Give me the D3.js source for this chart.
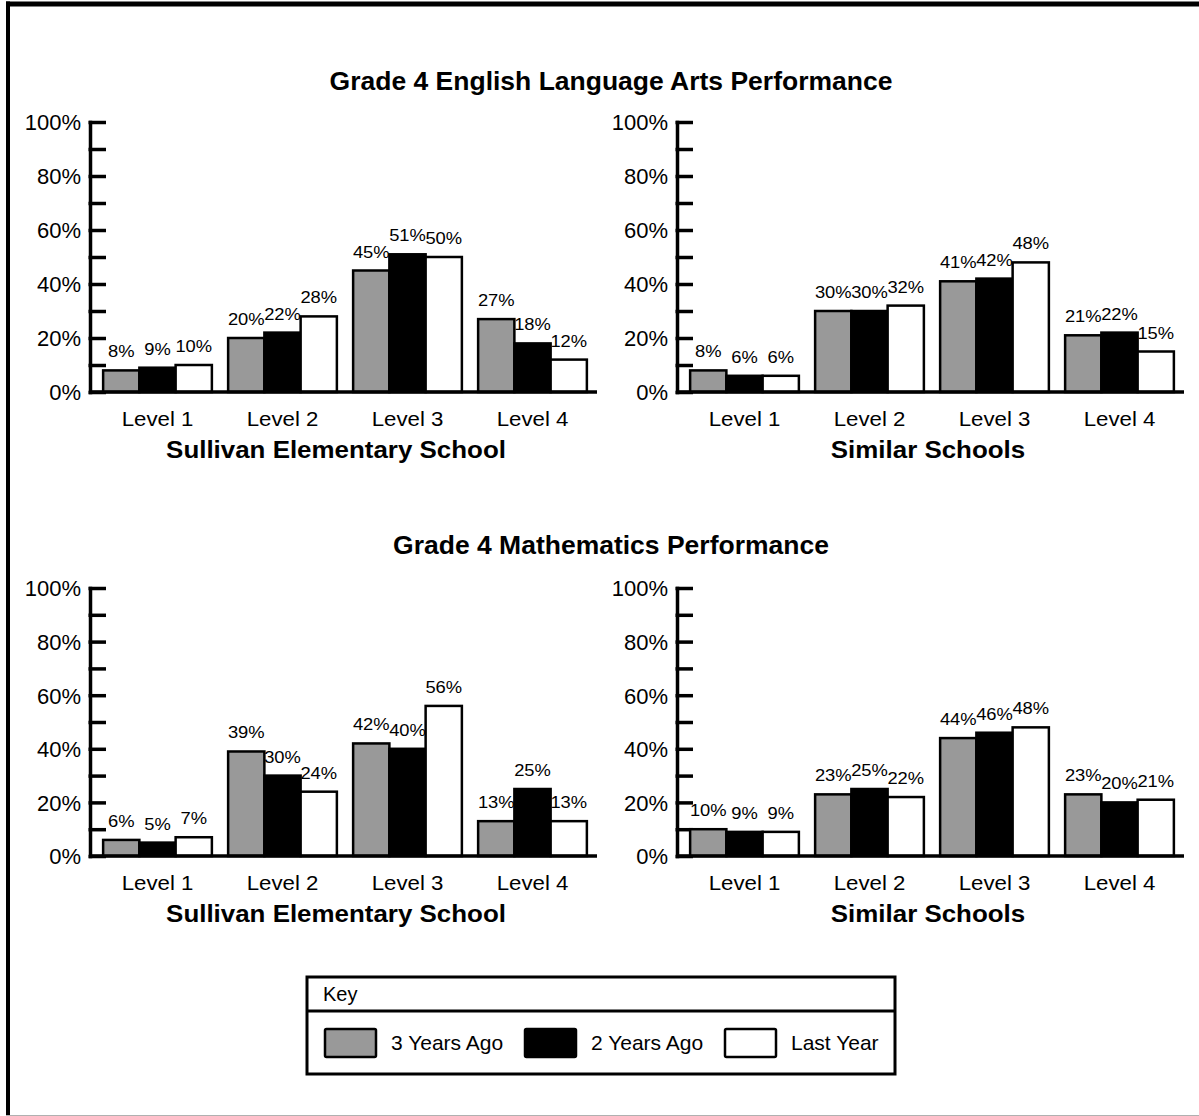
<!DOCTYPE html>
<html>
<head>
<meta charset="utf-8">
<script src="https://cdn.jsdelivr.net/npm/d3@7"></script>
<style>
  html, body { margin: 0; padding: 0; background: #fff; }
  svg { display: block; font-family: "Liberation Sans", Arial, Helvetica, sans-serif; }
</style>
</head>
<body>
<svg id="chart" width="1199" height="1116"></svg>
<script>
// ---------- DATA ----------
const levels = ["Level 1", "Level 2", "Level 3", "Level 4"];
const series = ["3 Years Ago", "2 Years Ago", "Last Year"];
const seriesFill = ["#999999", "#000000", "#ffffff"];
const yTickValues = [0, 10, 20, 30, 40, 50, 60, 70, 80, 90, 100];
const yLabelValues = [0, 20, 40, 60, 80, 100];

const sectionTitles = ["Grade 4 English Language Arts Performance", "Grade 4 Mathematics Performance"];
const panelTitles = ["Sullivan Elementary School", "Similar Schools"];

// ELA – Sullivan Elementary School
const elaSchool3YearsAgo = [8, 20, 45, 27];
const elaSchool2YearsAgo = [9, 22, 51, 18];
const elaSchoolLastYear  = [10, 28, 50, 12];
// ELA – Similar Schools
const elaSimilar3YearsAgo = [8, 30, 41, 21];
const elaSimilar2YearsAgo = [6, 30, 42, 22];
const elaSimilarLastYear  = [6, 32, 48, 15];
// Math – Sullivan Elementary School
const mathSchool3YearsAgo = [6, 39, 42, 13];
const mathSchool2YearsAgo = [5, 30, 40, 25];
const mathSchoolLastYear  = [7, 24, 56, 13];
// Math – Similar Schools
const mathSimilar3YearsAgo = [10, 23, 44, 23];
const mathSimilar2YearsAgo = [9, 25, 46, 20];
const mathSimilarLastYear  = [9, 22, 48, 21];

const panelData = [
  [elaSchool3YearsAgo, elaSchool2YearsAgo, elaSchoolLastYear],
  [elaSimilar3YearsAgo, elaSimilar2YearsAgo, elaSimilarLastYear],
  [mathSchool3YearsAgo, mathSchool2YearsAgo, mathSchoolLastYear],
  [mathSimilar3YearsAgo, mathSimilar2YearsAgo, mathSimilarLastYear]
];

// ---------- LAYOUT ----------
const svg = d3.select("#chart");
const W = 1199, H = 1116;

svg.append("rect").attr("x", 0).attr("y", 0).attr("width", W).attr("height", H).attr("fill", "#fff");

// frame
svg.append("rect").attr("x", 6).attr("y", 1.5).attr("width", W - 6).attr("height", 5).attr("fill", "#000");
svg.append("rect").attr("x", 6).attr("y", 1.5).attr("width", 4).attr("height", H - 1.5).attr("fill", "#000");
svg.append("line").attr("x1", 6).attr("x2", W).attr("y1", 1115.5).attr("y2", 1115.5)
  .attr("stroke", "#b0b0b0").attr("stroke-width", 1);

function stretchText(parent, x, y, str, opts) {
  return parent.append("text")
    .attr("transform", `translate(${x},${y}) scale(${opts.sx || 1},1)`)
    .attr("text-anchor", opts.anchor || "middle")
    .attr("font-size", opts.size)
    .attr("font-weight", opts.weight || "normal")
    .attr("fill", "#000")
    .text(str);
}

const panels = [
  { axisX: 90,  top: 122, bottom: 392, sub: 0, subX: 336 },
  { axisX: 677, top: 122, bottom: 392, sub: 1, subX: 928 },
  { axisX: 90,  top: 588, bottom: 856, sub: 0, subX: 336 },
  { axisX: 677, top: 588, bottom: 856, sub: 1, subX: 928 }
];

// section titles
stretchText(svg, 611, 90, sectionTitles[0], { size: 25, weight: "bold", sx: 1.06 });
stretchText(svg, 611, 554, sectionTitles[1], { size: 25, weight: "bold", sx: 1.06 });

panels.forEach((p, i) => {
  const g = svg.append("g");
  const y = d3.scaleLinear().domain([0, 100]).range([p.bottom, p.top]);
  const x = d3.scaleBand().domain(levels).range([p.axisX + 5, p.axisX + 505])
    .paddingInner(0.13).paddingOuter(0.065);
  const xs = d3.scaleBand().domain(series).range([0, x.bandwidth()]);

  // y axis ticks (pointing inward) with labels at every 20%
  const yAxis = d3.axisLeft(y)
    .tickValues(yTickValues)
    .tickSize(-16)
    .tickSizeOuter(0)
    .tickPadding(9)
    .tickFormat(d => yLabelValues.includes(d) ? d + "%" : "");
  const ya = g.append("g").attr("transform", `translate(${p.axisX},0)`).call(yAxis);
  ya.select(".domain").attr("stroke", "#000").attr("stroke-width", 3.5).attr("stroke-linecap", "square");
  ya.selectAll(".tick line").attr("stroke", "#000").attr("stroke-width", 3.5).attr("x1", -1.5);
  ya.selectAll(".tick text")
    .attr("font-size", 22)
    .attr("font-family", "Liberation Sans, Arial, sans-serif")
    .attr("fill", "#000")
    .attr("dy", "0.36em");

  // bars
  const data = panelData[i];
  const groups = g.selectAll("g.lvl").data(levels).join("g").attr("class", "lvl")
    .attr("transform", d => `translate(${x(d)},0)`);
  groups.each(function (lvl, li) {
    const gg = d3.select(this);
    series.forEach((s, si) => {
      const v = data[si][li];
      gg.append("rect")
        .attr("x", xs(s))
        .attr("y", y(v))
        .attr("width", xs.bandwidth())
        .attr("height", y(0) - y(v))
        .attr("fill", seriesFill[si])
        .attr("stroke", "#000")
        .attr("stroke-width", 2.5);
    });
    series.forEach((s, si) => {
      const v = data[si][li];
      stretchText(gg, xs(s) + xs.bandwidth() / 2, y(v) - 13, v + "%", { size: 17, sx: 1.08 });
    });
  });

  // baseline
  g.append("line")
    .attr("x1", p.axisX).attr("x2", x.range()[1] + 2)
    .attr("y1", y(0)).attr("y2", y(0))
    .attr("stroke", "#000").attr("stroke-width", 3.5);

  // category labels
  levels.forEach(l => {
    stretchText(g, x(l) + x.bandwidth() / 2, y(0) + 34, l, { size: 21, sx: 1.06 });
  });

  // panel subtitle
  stretchText(g, p.subX, y(0) + 66, panelTitles[p.sub], { size: 24, weight: "bold", sx: 1.08 });
});

// ---------- LEGEND ----------
const lg = svg.append("g");
lg.append("rect").attr("x", 307).attr("y", 977).attr("width", 588).attr("height", 97)
  .attr("fill", "#fff").attr("stroke", "#000").attr("stroke-width", 3);
lg.append("line").attr("x1", 307).attr("x2", 895).attr("y1", 1011).attr("y2", 1011)
  .attr("stroke", "#000").attr("stroke-width", 3);
stretchText(lg, 323, 1001, "Key", { size: 20, anchor: "start" });

const lx = d3.scaleBand().domain(series).range([325, 925]);
series.forEach((s, si) => {
  lg.append("rect")
    .attr("x", lx(s)).attr("y", 1029)
    .attr("width", 51).attr("height", 28)
    .attr("rx", 1.5)
    .attr("fill", seriesFill[si]).attr("stroke", "#000").attr("stroke-width", 2.5);
  stretchText(lg, lx(s) + 66, 1050, s, { size: 21, anchor: "start" });
});
</script>
</body>
</html>
